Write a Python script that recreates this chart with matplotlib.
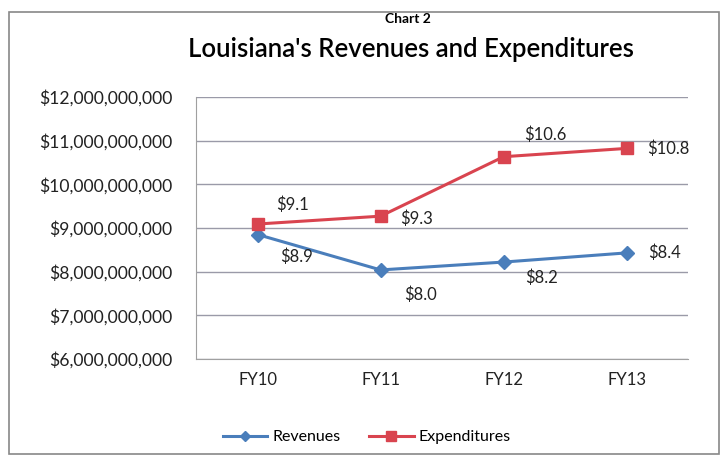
import matplotlib
matplotlib.use("Agg")
import matplotlib.pyplot as plt
from matplotlib.patches import Rectangle
from matplotlib.ticker import FuncFormatter

categories = ["FY10", "FY11", "FY12", "FY13"]
revenues = [8.85e9, 8.04e9, 8.22e9, 8.43e9]
expenditures = [9.09e9, 9.27e9, 10.63e9, 10.82e9]
rev_labels = ["$8.9", "$8.0", "$8.2", "$8.4"]
exp_labels = ["$9.1", "$9.3", "$10.6", "$10.8"]

plt.rcParams['font.family'] = ['Lato', 'DejaVu Sans']

fig = plt.figure(figsize=(7.26, 4.61), dpi=100)
ax = fig.add_axes([0.27, 0.221, 0.678, 0.569])

blue = "#4a7ebb"
red = "#d9444f"
x = list(range(len(categories)))
ax.plot(x, revenues, color=blue, lw=2.2, marker="D", ms=7, label="Revenues")
ax.plot(x, expenditures, color=red, lw=2.2, marker="s", ms=9, label="Expenditures")

ax.set_xlim(-0.5, 3.5)
ax.set_ylim(6e9, 12e9)
ax.set_yticks([6e9 + i * 1e9 for i in range(7)])
ax.yaxis.set_major_formatter(FuncFormatter(lambda v, p: "${:,.0f}".format(v)))
ax.set_xticks(x)
ax.set_xticklabels(categories)
ax.tick_params(axis="both", length=0, labelsize=12, colors="#222222")
ax.tick_params(axis="y", pad=17, labelsize=12.6)
ax.tick_params(axis="x", pad=9)
ax.grid(axis="y", color="#9a9aa8", lw=1)
ax.set_axisbelow(True)
for s in ["top", "right"]:
    ax.spines[s].set_visible(False)
ax.spines["left"].set_color("#a0a0a0")
ax.spines["bottom"].set_color("#a0a0a0")

exp_off = [(25, 14), (26, -2), (30, 16), (30, 0)]
rev_off = [(28, -16), (29, -18), (27, -11), (27, 0)]
for i in x:
    ax.annotate(exp_labels[i], (i, expenditures[i]), xytext=exp_off[i], textcoords="offset points",
                ha="center", va="center", fontsize=12, color="#222222")
    ax.annotate(rev_labels[i], (i, revenues[i]), xytext=rev_off[i], textcoords="offset points",
                ha="center", va="center", fontsize=12, color="#222222")

fig.text(0.562, 0.958, "Chart 2", ha="center", va="center", fontsize=10, fontweight="bold")
fig.text(0.566, 0.893, "Louisiana's Revenues and Expenditures", ha="center", va="center",
         fontsize=18.5, fontweight="semibold")

leg = fig.legend(loc="center", bbox_to_anchor=(0.505, 0.052), ncol=2, frameon=False,
                 fontsize=11.5, handlelength=2.8, columnspacing=1.8, handletextpad=0.3,
                 markerscale=0.8)

fig.patches.append(Rectangle((0.012, 0.015), 0.978, 0.96, transform=fig.transFigure,
                             fill=False, edgecolor="#888888", lw=1.2))

fig.savefig("out.png", dpi=100)
